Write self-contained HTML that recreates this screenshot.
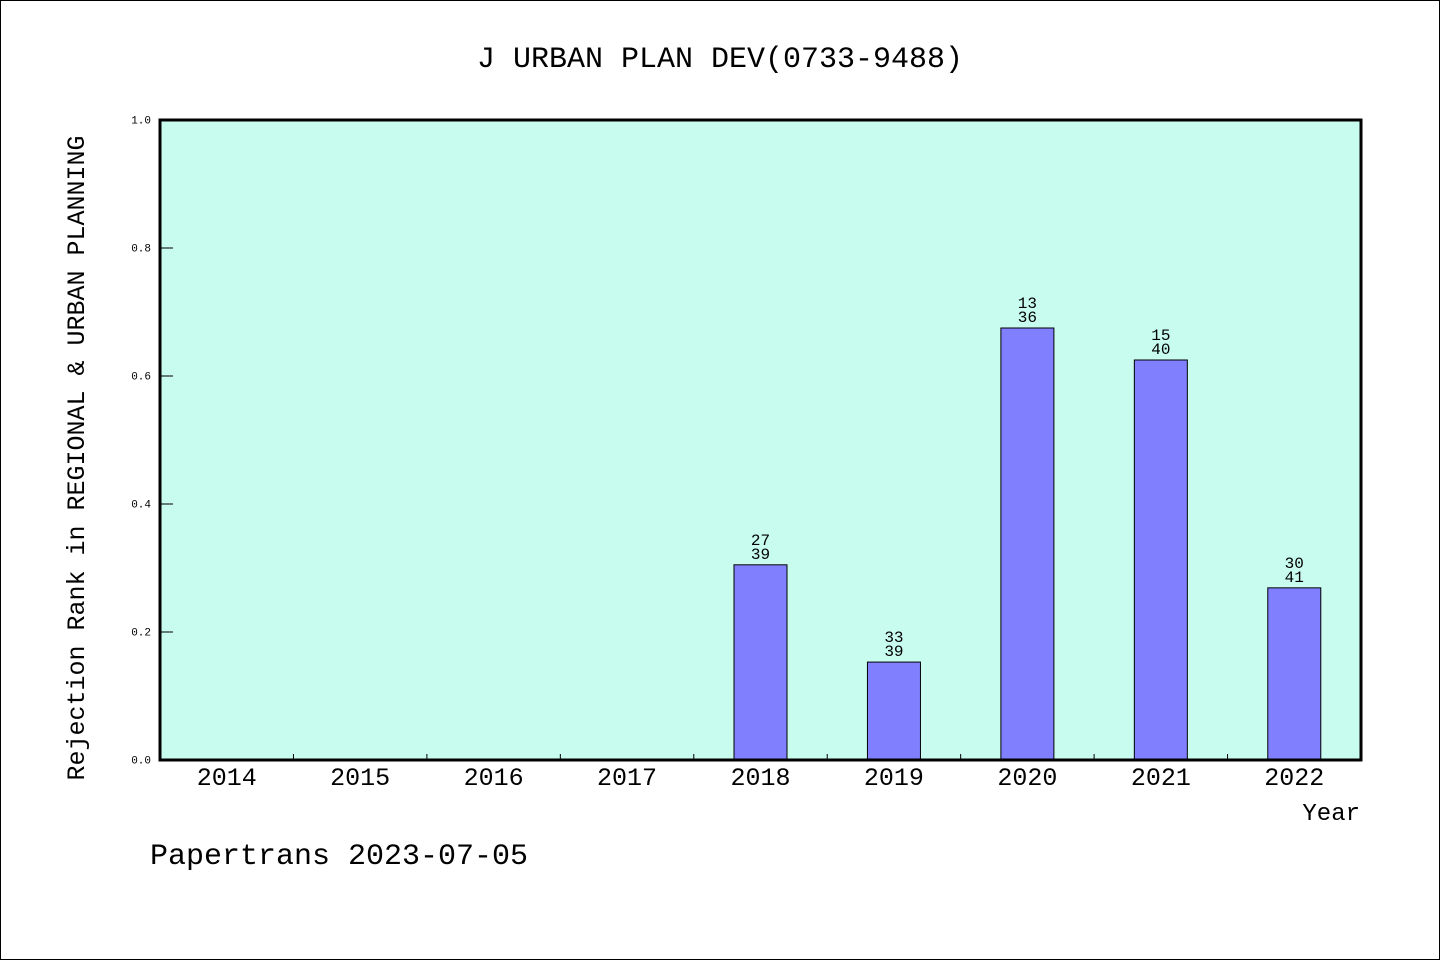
<!DOCTYPE html>
<html><head><meta charset="utf-8"><style>
html,body{margin:0;padding:0;background:#fff}
svg{display:block}
text{font-family:"Liberation Mono","DejaVu Sans Mono",monospace;fill:#000}
</style></head><body>
<svg width="1440" height="960">
<rect x="0.5" y="0.5" width="1439" height="959" fill="#fff" stroke="#000"/>
<text x="720" y="67" font-size="30" text-anchor="middle">J URBAN PLAN DEV(0733-9488)</text>
<rect x="160" y="120" width="1201" height="640" fill="#c8fcee"/>
<g id="marks"></g>
<rect x="160" y="120" width="1201" height="640" fill="none" stroke="#000" stroke-width="3"/>
<text transform="translate(84,458) rotate(-90)" font-size="25" text-anchor="middle">Rejection Rank in REGIONAL &amp; URBAN PLANNING</text>
<text x="1360" y="820" font-size="24" text-anchor="end">Year</text>
<text x="150" y="864" font-size="30">Papertrans 2023-07-05</text>
</svg>
<script>
const categories=["2014","2015","2016","2017","2018","2019","2020","2021","2022"];
const values=[null,null,null,null,0.305,0.153,0.675,0.625,0.269];
const ranks=[null,null,null,null,"27","33","13","15","30"];
const totals=[null,null,null,null,"39","39","36","40","41"];
const yTicks=[0,0.2,0.4,0.6,0.8,1.0];
const X0=160,X1=1361,Y0=760,Y1=120;
const slot=(X1-X0)/categories.length;
const xc=i=>X0+slot*(i+0.5);
const ys=v=>Y0-(v)*(Y0-Y1);
const g=document.getElementById('marks');
const NS='http://www.w3.org/2000/svg';
function mk(t,a){const e=document.createElementNS(NS,t);for(const k in a)e.setAttribute(k,a[k]);g.appendChild(e);return e;}
yTicks.forEach(v=>{
 const l=mk('line',{x1:X0,x2:X0+13,y1:ys(v),y2:ys(v),stroke:'#000','stroke-width':1});
 
 
 const t=mk('text',{x:X0-9,y:ys(v)+3.5,'font-size':11,'text-anchor':'end'});
 t.textContent=v.toFixed(1);
 
 
});
categories.forEach((c,i)=>{
 if(i>0){const l=mk('line',{x1:X0+slot*i,x2:X0+slot*i,y1:Y0,y2:Y0-6,stroke:'#000','stroke-width':1});
 
 }
 const t=mk('text',{x:xc(i),y:785,'font-size':25,'text-anchor':'middle'});
 t.textContent=c;
 
 
 if(values[i]!=null){
  const w=53;
  const b=mk('rect',{x:xc(i)-w/2,y:ys(values[i]),width:w,height:Y0-ys(values[i]),fill:'#8080ff',stroke:'#000','stroke-width':1});
  
  
  const t1=mk('text',{x:xc(i),y:ys(values[i])-20,'font-size':16,'text-anchor':'middle'});
  t1.textContent=ranks[i];
  
  
  const t2=mk('text',{x:xc(i),y:ys(values[i])-6,'font-size':16,'text-anchor':'middle'});
  t2.textContent=totals[i];
  
  
 }
});
</script>
</body></html>
